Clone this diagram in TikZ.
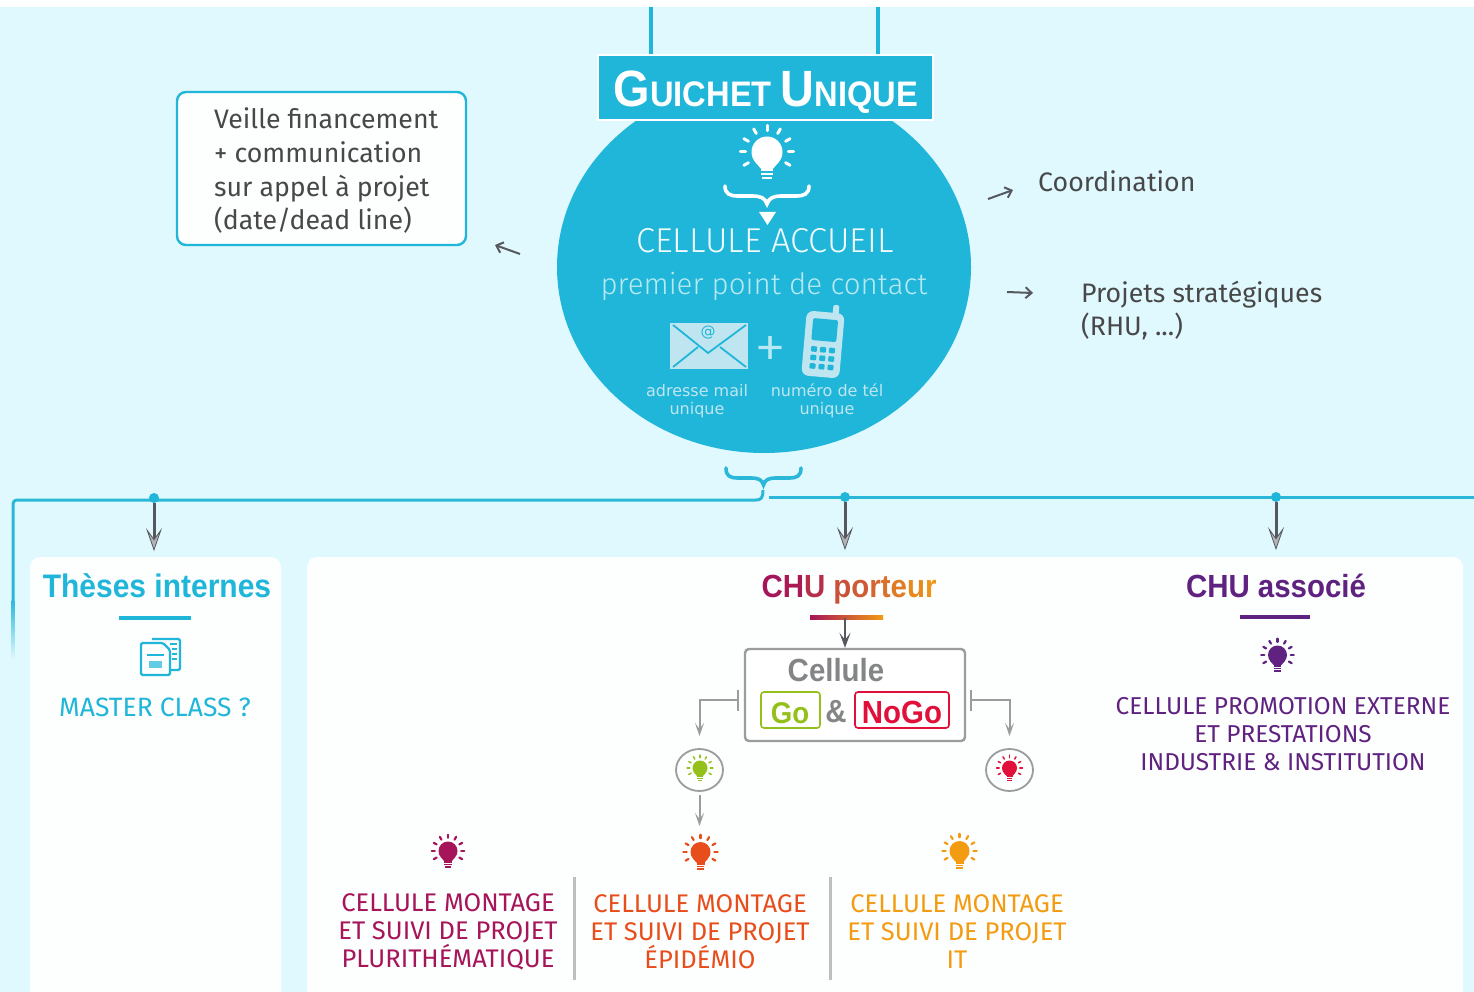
\documentclass[tikz,border=0pt]{standalone}
\usepackage{fontspec}
\usetikzlibrary{arrows.meta,calc,shapes.geometric}
\setmainfont{Fira Sans}
\newfontfamily\lightf{Fira Sans Light}
\newfontfamily\regf{Fira Sans}
\newfontfamily\headf[FakeStretch=0.92]{Liberation Sans}
\newfontfamily\dejaf{DejaVu Sans}
\definecolor{bgc}{HTML}{E0F9FF}
\definecolor{cya}{HTML}{1FB6D9}
\definecolor{lin}{HTML}{2BB8D8}
\definecolor{pal}{HTML}{B8E9F3}
\definecolor{pal2}{HTML}{BFE6F0}
\definecolor{pane}{HTML}{FDFEFE}
\definecolor{darkg}{HTML}{55585C}
\definecolor{midg}{HTML}{9A9C9E}
\definecolor{sepg}{HTML}{BDBFBF}
\definecolor{magc}{HTML}{A6145A}
\definecolor{orac}{HTML}{E84E1B}
\definecolor{yelc}{HTML}{F39C12}
\definecolor{purc}{HTML}{5F2280}
\definecolor{grnc}{HTML}{94C01C}
\definecolor{redc}{HTML}{E0103A}
\definecolor{txtc}{HTML}{484848}
\newcommand{\fs}[1]{\fontsize{#1}{#1}\selectfont}
\tikzset{
 x=1pt,y=-1pt,
 pane/.style={fill=pane,rounded corners=10pt},
 dotn/.style={circle,fill=cya,inner sep=0pt,minimum size=10pt},
 bigarrow/.style={draw=darkg,line width=3pt,-{Stealth[length=23pt,width=16pt,inset=11pt,fill=darkg!45!white,line width=.8pt]}},
 thinarrow/.style={draw=midg,line width=2pt,-{Stealth[length=13pt,width=9pt,inset=6pt]}},
 openarrow/.style={draw=darkg,line width=2pt,-{Straight Barb[length=6pt,width=11pt]}},
 lightt/.style={font=\regf\fs{26.7},text=txtc,anchor=base west,inner sep=0pt},
 label/.style={font=\regf\fs{25.5},anchor=base,inner sep=0pt},
 promo/.style={font=\regf\fs{24.4},anchor=base,inner sep=0pt,text=purc},
 smallt/.style={anchor=base,inner sep=0pt,text=pal2,font=\dejaf\fs{16}},
 head/.style={font=\headf\bfseries\fs{32},anchor=base,inner sep=0pt},
 headbar/.style={line width=4.5pt},
 cyanline/.style={draw=lin,line width=3pt},
 sepline/.style={draw=sepg,line width=2.4pt},
 pics/bulb/.style n args={2}{code={
  \fill[#1] (0,0) circle (10);
  \fill[#1] (-7.5,6.5) -- (7.5,6.5) -- (4.2,10.5) -- (-4.2,10.5) -- cycle;
  \fill[#1] (-4,10) rectangle (4,12.5);
  \fill[#1] (-3.7,13.6) rectangle (3.7,15);
  \fill[#1] (-3.3,16) rectangle (3.3,17.6);
  \foreach \a in {-210,-180,-150,-120,-90,-60,-30,0,30}
   \draw[#1,line width=#2,line cap=round] ({13.8*cos(\a)},{13.8*sin(\a)}) -- ({17.2*cos(\a)},{17.2*sin(\a)});
 }}
}
\begin{document}
\begin{tikzpicture}
\useasboundingbox (0,0) rectangle (1474,992);
\fill[white] (0,0) rectangle (1474,992);
\fill[bgc] (0,7) rectangle (1474,992);
% panels
\path[pane] (30,557) rectangle (281,1003);
\path[pane] (307,557) rectangle (1463,1003);
\fill[white] (0,992) rectangle (1474,1010);
% hanging lines
\coordinate (t1) at (651,7); \coordinate (t2) at (878,7);
\coordinate (b1) at (651,56); \coordinate (b2) at (878,56);
\draw[line width=3.2pt,draw=cya] (t1) -- (b1);
\draw[line width=3.2pt,draw=cya] (t2) -- (b2);
% circle
\node[ellipse,fill=cya,inner sep=0pt,minimum width=414pt,minimum height=372pt] (disc) at (764,267) {};
% banner
\node[draw=white,fill=cya,line width=2pt,minimum width=335pt,minimum height=65pt,inner sep=0pt] (banner) at (765,88) {};
\node[anchor=base,inner sep=0pt,text=white,font=\headf\bfseries] (guichet) at (766,107) {\fs{51}G\fs{35.5}UICHET \fs{51}U\fs{35.5}NIQUE};
% inner icons
\pic at (767,152) [scale=1.55] {bulb={white}{3pt}};
\draw[white,line width=3.6pt,line cap=round] (725,186) .. controls (725,194) and (730,196) .. (738,196) -- (752,196) .. controls (761,196) and (765,198) .. (767,204) .. controls (769,198) and (773,196) .. (782,196) -- (796,196) .. controls (804,196) and (809,194) .. (809,186);
\fill[white] (759,212) -- (776,212) -- (767.5,225) -- cycle;
\node[anchor=base,inner sep=0pt,text=white!80!pal,font=\lightf\fs{34.5}] (accueil) at (765,252) {CELLULE ACCUEIL};
\node[anchor=base,inner sep=0pt,text=pal,font=\lightf\fs{29.5}] (contact) at (764,294) {premier point de contact};
% envelope
\fill[pal2] (670,323) rectangle (748,369);
\draw[cya,line width=1.8pt] (673,325) -- (708,353) -- (746,325);
\draw[cya,line width=1.8pt] (673,367) -- (698,347) (746,367) -- (720,347);
\node[inner sep=0pt,text=cya,font=\dejaf\fs{15}] (at) at (708,333) {@};
\node[inner sep=0pt,text=pal,font=\lightf\fs{65}] (plus) at (771,353) {+};
% phone
\begin{scope}[rotate around={-5:(823,344)}]
 \fill[pal2,rounded corners=7pt] (804,312) rectangle (842,377);
 \fill[pal2,rounded corners=2pt] (830,304) rectangle (836,314);
 \fill[cya,rounded corners=2pt] (811,319) rectangle (836,341);
 \foreach \r in {0,1,2} \foreach \c in {0,1,2}
  \fill[cya,rounded corners=1pt] ({811.5+\c*9},{347+\r*8.5}) rectangle ++(6,5.5);
\end{scope}
\node[smallt] (mail1) at (697,396.5) {adresse mail};
\node[smallt] (mail2) at (697,414.5) {unique};
\node[smallt] (tel1) at (827,396.5) {numéro de tél};
\node[smallt] (tel2) at (827,414.5) {unique};
% left box
\node[draw=cya,fill=pane,line width=2.4pt,rounded corners=9pt,minimum width=289pt,minimum height=153pt,inner sep=0pt] (veille) at (321.5,168.5) {};
\node[lightt] (v1) at (214,129) {Veille financement};
\node[lightt] (v2) at (214,163) {+ communication};
\node[lightt] (v3) at (214,197) {sur appel à projet};
\node[lightt] (v4) at (214,230) {(date/dead line)};
% side arrows
\coordinate (a1s) at (520,254); \coordinate (a1e) at (495,245);
\coordinate (a2s) at (988,199); \coordinate (a2e) at (1013,190);
\coordinate (a3s) at (1007,292); \coordinate (a3e) at (1033,293);
\draw[openarrow] (a1s) -- (a1e);
\draw[openarrow] (a2s) -- (a2e);
\draw[openarrow] (a3s) -- (a3e);
\node[lightt] (coord) at (1038,192) {Coordination};
\node[lightt] (proj1) at (1081,302) {Projets stratégiques};
\node[lightt] (proj2) at (1081,335) {(RHU, ...)};
% bottom brace and lines
\draw[lin,line width=3.6pt,line cap=round] (726,468) .. controls (726,476) and (730,478) .. (738,478) -- (751,478) .. controls (759,478) and (762,480) .. (763.5,485) .. controls (765,480) and (768,478) .. (776,478) -- (789,478) .. controls (797,478) and (801,476) .. (801,468);
\shade[top color=lin,bottom color=bgc] (11.5,600) rectangle (14.5,660);
\draw[cyanline] (13,600) -- (13,506) .. controls (13,501.5) and (14,500) .. (18,500) -- (756,500) .. controls (761,500) and (763,498) .. (763,490);
\draw[cyanline] (769,497.7) -- (1474,497.7);
\node[dotn] (d1) at (154,498) {};
\node[dotn] (d2) at (845,497) {};
\node[dotn] (d3) at (1276,497) {};
\coordinate (e1) at (154,551); \coordinate (e2) at (845,550); \coordinate (e3) at (1276,550);
\draw[bigarrow] (d1) -- (e1);
\draw[bigarrow] (d2) -- (e2);
\draw[bigarrow] (d3) -- (e3);
% These internes
\node[head,text=cya,font=\headf\bfseries\fs{32.6}] (theses) at (157,597) {Thèses internes};
\draw[headbar,draw=cya] (119,618) -- (191,618);
\draw[cya,line width=2.2pt,rounded corners=1.5pt] (152,639) -- (180,639) -- (180,670) -- (170,670);
\fill[pane] (141,643) -- (163,643) -- (170,650) -- (170,675) -- (141,675) -- cycle;
\draw[cya,line width=2.2pt,rounded corners=1.5pt] (141,643) -- (163,643) -- (170,650) -- (170,675) -- (141,675) -- cycle;
\draw[cya,line width=1.2pt] (147,655) -- (164,655);
\fill[cya!70!white] (149,661) rectangle (162,668);
\draw[cya,line width=1.1pt] (170,644) -- (177,644) (172,649) -- (177,649) (172,654) -- (177,654) (172,659) -- (177,659);
\node[label,text=cya,font=\regf\fs{26.5}] (master) at (155,716) {MASTER CLASS ?};
% CHU porteur
\node[head] (porteur) at (849,597) {\textcolor{magc}{C}\textcolor{magc!92!orac}{H}\textcolor{magc!80!yelc}{U} \textcolor{magc!55!yelc}{p}\textcolor{magc!48!yelc}{o}\textcolor{magc!40!yelc}{r}\textcolor{magc!32!yelc}{t}\textcolor{magc!24!yelc}{e}\textcolor{magc!14!yelc}{u}\textcolor{magc!6!yelc}{r}};
\shade[left color=magc,right color=yelc] (810,615) rectangle (883,619.5);
\coordinate (pb) at (845,618);
\node[draw=midg,line width=2.4pt,rounded corners=4pt,minimum width=220pt,minimum height=92pt,inner sep=0pt,fill=white] (cellbox) at (855,695) {};
\draw[draw=darkg,line width=2pt,-{Stealth[length=15pt,width=11pt,inset=7pt]}] (pb) -- (cellbox.north -| pb);
\node[head,text=midg!85!black] (cellule) at (836,681) {Cellule};
\node[draw=grnc,line width=1.6pt,rounded corners=3pt,minimum width=59pt,minimum height=36pt,inner sep=0pt] (gobox) at (790.5,710) {};
\node[head,text=grnc,font=\headf\bfseries\fs{30}] (gotxt) at (790,723) {Go};
\node[head,text=midg!85!black] (amp) at (836,722) {\&};
\node[draw=redc,line width=1.6pt,rounded corners=3pt,minimum width=94pt,minimum height=36pt,inner sep=0pt] (nogobox) at (902,710) {};
\node[head,text=redc] (nogotxt) at (902,723) {NoGo};
% tee connectors
\coordinate (tl) at (738,700); \coordinate (tr) at (971,700);
\draw[midg,line width=2pt] (738,690) -- (738,711);
\draw[midg,line width=2pt] (971,690) -- (971,711);
\node[draw=midg,line width=1.8pt,ellipse,minimum width=47pt,minimum height=42pt,inner sep=0pt] (cg) at (699.5,770) {};
\node[draw=midg,line width=1.8pt,ellipse,minimum width=47pt,minimum height=42pt,inner sep=0pt] (cr) at (1009.5,770) {};
\coordinate (tla) at (699.5,736); \coordinate (tra) at (1009.5,736);
\draw[thinarrow] (tl) -- (tl -| tla) -- (tla);
\draw[thinarrow] (tr) -- (tr -| tra) -- (tra);
\pic at (700,768) [scale=.75] {bulb={grnc}{1.5pt}};
\pic at (1009.5,768) [scale=.75] {bulb={redc}{1.5pt}};
\coordinate (cgb) at (699.5,795);
\coordinate (obul) at (699.5,826);
\draw[thinarrow] (cgb) -- (obul);
% bulbs
\pic at (448,851) [scale=.95] {bulb={magc}{2.2pt}};
\pic at (700.5,852) [scale=1] {bulb={orac}{2.2pt}};
\pic at (959.5,851) [scale=1] {bulb={yelc}{2.2pt}};
\pic at (1277.5,655) [scale=.95] {bulb={purc}{2.2pt}};
% montage labels
\node[label,text=magc] (m1a) at (448,911) {CELLULE MONTAGE};
\node[label,text=magc] (m1b) at (448,939) {ET SUIVI DE PROJET};
\node[label,text=magc] (m1c) at (448,967) {PLURITHÉMATIQUE};
\node[label,text=orac] (m2a) at (700,912) {CELLULE MONTAGE};
\node[label,text=orac] (m2b) at (700,940) {ET SUIVI DE PROJET};
\node[label,text=orac] (m2c) at (700,968) {ÉPIDÉMIO};
\node[label,text=yelc] (m3a) at (957,912) {CELLULE MONTAGE};
\node[label,text=yelc] (m3b) at (957,940) {ET SUIVI DE PROJET};
\node[label,text=yelc] (m3c) at (957,968) {IT};
\draw[sepline] (574.5,877) -- (574.5,980);
\draw[sepline] (830.5,877) -- (830.5,980);
% CHU associe
\node[head,text=purc] (assoc) at (1276,597) {CHU associé};
\draw[headbar,draw=purc] (1240,617) -- (1310,617);
\node[promo] (p1) at (1283,714) {CELLULE PROMOTION EXTERNE};
\node[promo] (p2) at (1283,742) {ET PRESTATIONS};
\node[promo] (p3) at (1283,770) {INDUSTRIE \& INSTITUTION};
\end{tikzpicture}
\end{document}
